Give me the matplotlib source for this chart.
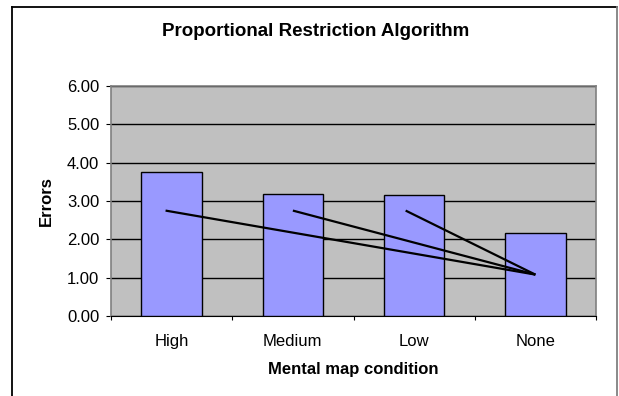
import numpy as np
import matplotlib
matplotlib.use('Agg')
import matplotlib.pyplot as plt
from matplotlib.lines import Line2D

plt.rcParams['font.family'] = ['Liberation Sans', 'DejaVu Sans']

conditions = ['High', 'Medium', 'Low', 'None']
errors = [3.76, 3.18, 3.15, 2.17]

# comparison lines drawn over the bars: start (x, y) -> common end point
line_starts_x = [-0.05, 1.0, 1.93]
line_starts_y = [2.75, 2.75, 2.75]
line_end = (3.0, 1.08)

fig = plt.figure(figsize=(6.19, 3.96), dpi=100)
ax = fig.add_axes([111 / 619, 80 / 396, 485 / 619, 230 / 396])

x = np.arange(len(conditions))
ax.set_facecolor('#C0C0C0')
ax.bar(x, errors, width=0.5, color='#9999FF', edgecolor='black', linewidth=1.0, zorder=3)

for sx, sy in zip(line_starts_x, line_starts_y):
    ax.plot([sx, line_end[0]], [sy, line_end[1]], color='black', lw=1.6, zorder=4,
            solid_capstyle='butt')

ax.set_xlim(-0.5, 3.5)
ax.set_ylim(0, 6)
ax.set_yticks(np.arange(0, 7, 1))
ax.set_yticklabels([f'{v:.2f}' for v in range(7)], fontsize=12)
ax.yaxis.grid(True, color='black', lw=1.0, zorder=1)
ax.set_axisbelow(True)

ax.set_xticks(np.arange(-0.5, 4, 1))
ax.set_xticklabels([])
ax.set_xticks(x, minor=True)
ax.set_xticklabels(conditions, minor=True, fontsize=12)
ax.tick_params(axis='x', which='minor', length=0, pad=13)
ax.tick_params(axis='x', which='major', length=3, direction='out', color='black')
ax.tick_params(axis='y', length=3.5, direction='out', pad=5)

for side in ['top', 'right', 'left']:
    ax.spines[side].set_color('#808080')
    ax.spines[side].set_linewidth(1.2)
ax.spines['bottom'].set_color('black')

ax.set_xlabel('Mental map condition', fontsize=12, fontweight='bold', labelpad=9)
ax.set_ylabel('Errors', fontsize=12, fontweight='bold', labelpad=9)

fig.text(316 / 619, 1 - 31 / 396, 'Proportional Restriction Algorithm',
         ha='center', va='center', fontsize=13.5, fontweight='bold')

# chart frame
fig.add_artist(Line2D([12 / 619, 12 / 619], [0, 1 - 7 / 396], color='black', lw=1.3))
fig.add_artist(Line2D([12 / 619, 617 / 619], [1 - 7 / 396, 1 - 7 / 396], color='black', lw=1.3))
fig.add_artist(Line2D([617 / 619, 617 / 619], [0, 1 - 7 / 396], color='#808080', lw=1.3))

fig.savefig('out.png', dpi=100)
